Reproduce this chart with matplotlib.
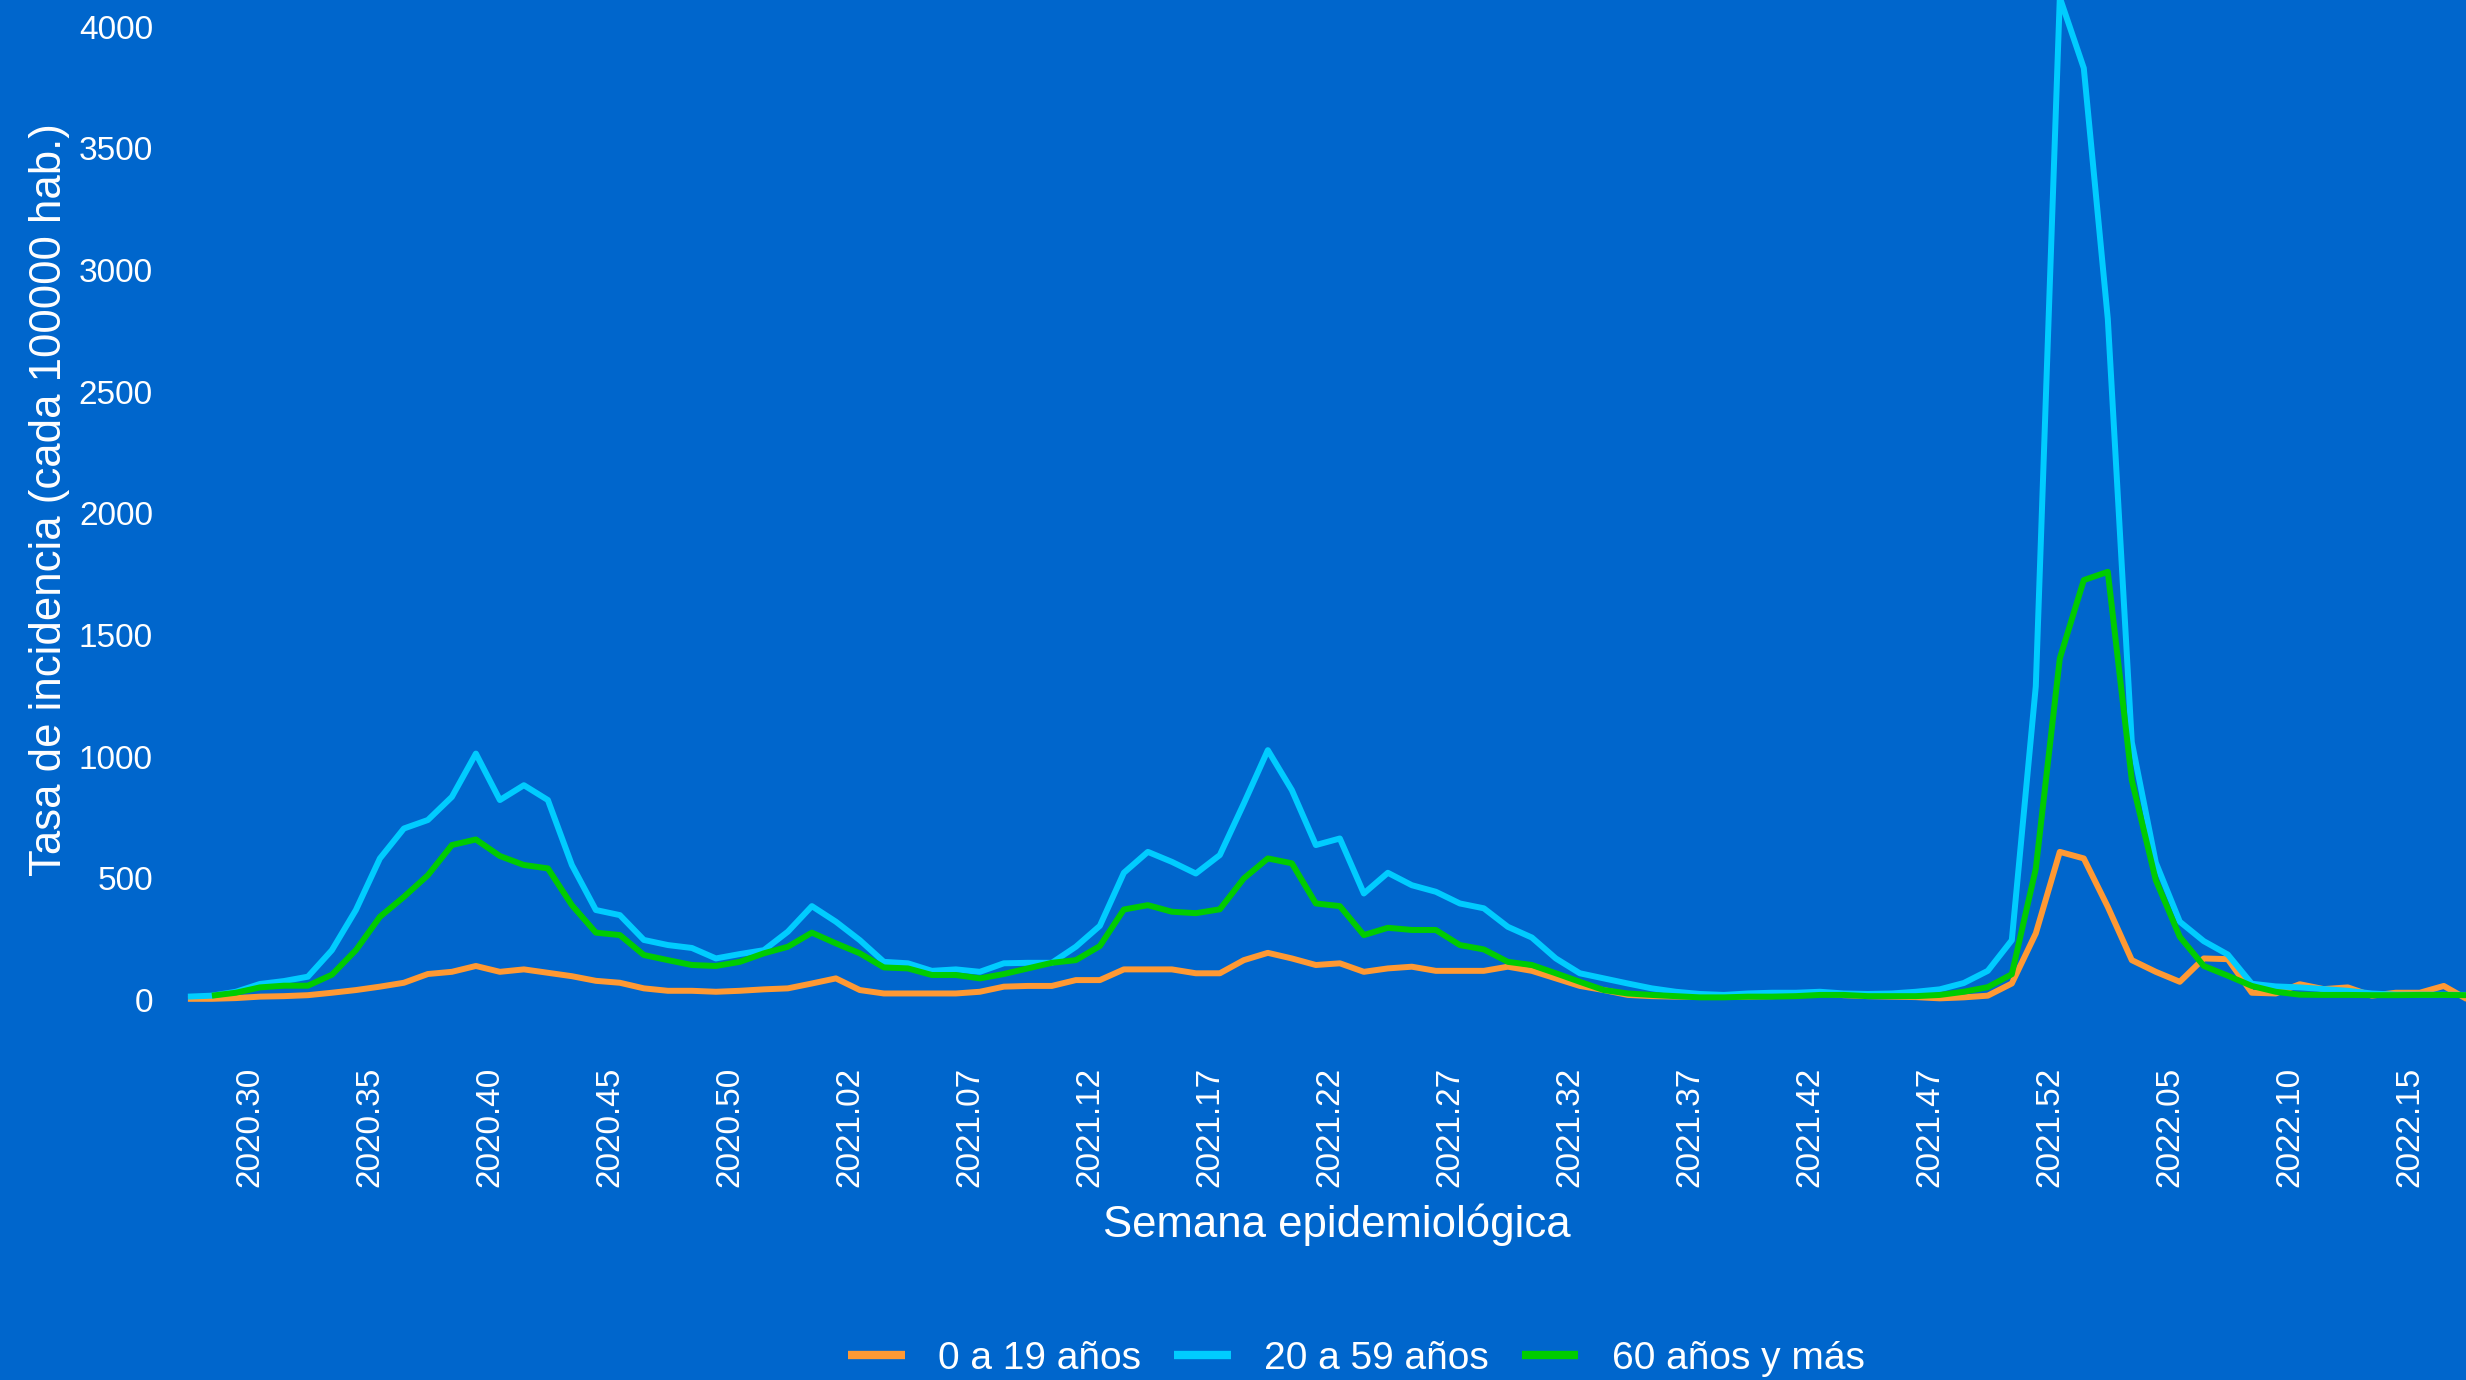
import matplotlib
matplotlib.use("Agg")
import matplotlib.pyplot as plt
import matplotlib.transforms as mtransforms
import numpy as np

plt.rcParams['font.family'] = ['Liberation Sans', 'DejaVu Sans']

# semanas epidemiologicas 2020.28 -> 2022.18
weeks = ([f"2020.{w:02d}" for w in range(28, 54)] +
         [f"2021.{w:02d}" for w in range(1, 53)] +
         [f"2022.{w:02d}" for w in range(1, 19)])

tick_labels = ["2020.30", "2020.35", "2020.40", "2020.45", "2020.50", "2021.02",
               "2021.07", "2021.12", "2021.17", "2021.22", "2021.27", "2021.32",
               "2021.37", "2021.42", "2021.47", "2021.52", "2022.05", "2022.10",
               "2022.15"]

# tasa cada 100000 hab.
edad_0_19 = [5, 5, 8, 14, 16, 20, 30, 41, 55, 71,
             107, 116, 140, 116, 126, 112, 98, 79, 71, 48,
             38, 38, 34, 38, 44, 48, 68, 89, 41, 27,
             27, 27, 27, 34, 55, 58, 58, 82, 82, 126,
             126, 126, 110, 110, 164, 194, 171, 144, 151, 116,
             130, 137, 120, 120, 120, 137, 120, 89, 58, 41,
             21, 16, 14, 14, 14, 14, 16, 20, 27, 20,
             16, 14, 12, 7, 11, 18, 68, 274, 609, 582,
             383, 164, 116, 75, 171, 168, 30, 27, 65, 45,
             52, 18, 30, 30, 58, 2]

edad_20_59 = [14, 18, 34, 66, 78, 96, 205, 370, 582, 705,
              740, 835, 1013, 822, 883, 822, 555, 370, 349, 247,
              226, 214, 171, 189, 205, 281, 386, 322, 246, 157,
              151, 120, 126, 116, 151, 153, 153, 219, 305, 523,
              609, 568, 520, 596, 808, 1027, 863, 637, 664, 438,
              523, 472, 445, 397, 377, 301, 257, 171, 110, 89,
              68, 48, 34, 25, 21, 27, 30, 30, 34, 27,
              25, 27, 34, 44, 70, 120, 246, 1290, 4120, 3830,
              2800, 1060, 565, 322, 242, 187, 67, 56, 52, 45,
              38, 27, 22, 22, 22, 21]

edad_60_mas = [np.nan, 18, 30, 52, 59, 59, 104, 205, 342, 424,
               513, 637, 660, 592, 555, 541, 390, 277, 267, 185,
               164, 144, 140, 157, 192, 219, 277, 233, 192, 134,
               130, 103, 103, 89, 107, 130, 153, 164, 222, 372,
               390, 363, 357, 373, 500, 582, 562, 397, 386, 267,
               297, 288, 288, 226, 208, 157, 144, 110, 75, 41,
               27, 21, 16, 11, 11, 14, 14, 16, 21, 21,
               16, 16, 16, 21, 34, 53, 106, 540, 1404, 1726,
               1760, 904, 493, 260, 140, 100, 58, 34, 22, 21,
               21, 20, 20, 21, 21, 20]

bg = '#0066CC'
x = np.arange(len(weeks))

fig = plt.figure(figsize=(24.66, 13.8), dpi=100, facecolor=bg)
ax = fig.add_axes([0.07036, 0.2391, 0.9362, 0.7971])
ax.set_facecolor(bg)

ax.plot(x, edad_0_19, color='#FF9933', lw=4.3, label='0 a 19 años',
        solid_capstyle='butt', solid_joinstyle='round')
ax.plot(x, edad_20_59, color='#00CCFF', lw=4.3, label='20 a 59 años',
        solid_capstyle='butt', solid_joinstyle='round')
ax.plot(x, edad_60_mas, color='#00CC00', lw=4.3, label='60 años y más',
        solid_capstyle='butt', solid_joinstyle='round')

ax.set_xlim(-0.6, len(weeks) - 1 + 0.6)
ax.set_ylim(-205.5, 4315.5)

tick_pos = [weeks.index(t) for t in tick_labels]
ax.set_xticks(tick_pos)
ax.set_xticklabels(tick_labels, rotation=90, ha='center', va='top')
ax.set_yticks(np.arange(0, 4001, 500))
ax.tick_params(axis='both', length=0, colors='white', labelsize=24)
ax.tick_params(axis='x', pad=12)
ax.tick_params(axis='y', pad=14.8)
offset = mtransforms.ScaledTranslation(0.14, 0, fig.dpi_scale_trans)
for lab in ax.get_xticklabels():
    lab.set_transform(lab.get_transform() + offset)

for s in ax.spines.values():
    s.set_visible(False)

ax.set_xlabel('Semana epidemiológica', color='white', fontsize=31.5)
ax.xaxis.set_label_coords(0.504, -0.1395)
ax.set_ylabel('Tasa de incidencia (cada 100000 hab.)', color='white',
              fontsize=31.5, va='center')
ax.yaxis.set_label_coords(-0.0535, 0.5)

leg = fig.legend(loc='center', bbox_to_anchor=(0.55, 0.0152), ncol=3,
                 frameon=False, fontsize=28, handlelength=1.46,
                 handletextpad=0.85, columnspacing=0.85, borderpad=0)
for h in leg.legend_handles:
    h.set_linewidth(6)
for t in leg.get_texts():
    t.set_color('white')

fig.savefig('out.png', dpi=100, facecolor=bg)
